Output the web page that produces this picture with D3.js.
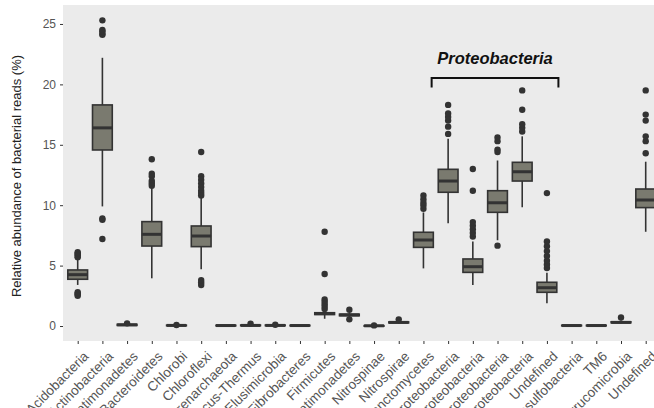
<!DOCTYPE html>
<html>
<head>
<meta charset="utf-8">
<script src="https://cdn.jsdelivr.net/npm/d3@7"></script>
<style>
  body { margin: 0; background: #fff; }
  text { font-family: "Liberation Sans", Arial, sans-serif; }
</style>
</head>
<body>
<svg id="chart" width="654" height="408"></svg>
<script>
const categories = ["Acidobacteria", "Actinobacteria", "Armatimonadetes", "Bacteroidetes", "Chlorobi",
  "Chloroflexi", "Crenarchaeota", "Deinococcus-Thermus", "Elusimicrobia", "Fibrobacteres", "Firmicutes",
  "Gemmatimonadetes", "Nitrospinae", "Nitrospirae", "Planctomycetes", "Alphaproteobacteria",
  "Betaproteobacteria", "Deltaproteobacteria", "Gammaproteobacteria", "Undefined",
  "Thermodesulfobacteria", "TM6", "Verrucomicrobia", "Undefined "];

const whiskerLo = [3.4, 9.9, 0.02, 3.95, 0.01, 4.7, 0.0, 0.01, 0.01, 0.0, 0.6, 0.75, 0.0, 0.2, 4.77, 8.5, 3.39, 7.1, 9.83, 1.88, 0.0, 0.0, 0.2, 7.8];
const q1 =        [3.87, 14.57, 0.05, 6.62, 0.03, 6.57, 0.02, 0.03, 0.03, 0.02, 0.95, 0.85, 0.01, 0.26, 6.51, 11.07, 4.44, 9.41, 12.0, 2.79, 0.02, 0.02, 0.27, 9.8];
const median =    [4.25, 16.4, 0.1, 7.59, 0.05, 7.45, 0.04, 0.05, 0.05, 0.04, 1.03, 0.92, 0.02, 0.3, 7.12, 12.0, 4.91, 10.2, 12.77, 3.17, 0.04, 0.04, 0.3, 10.43];
const q3 =        [4.64, 18.3, 0.14, 8.64, 0.07, 8.28, 0.06, 0.08, 0.08, 0.06, 1.1, 0.98, 0.03, 0.34, 7.76, 12.97, 5.55, 11.2, 13.55, 3.62, 0.06, 0.06, 0.35, 11.34];
const whiskerHi = [5.5, 22.2, 0.18, 11.4, 0.1, 10.6, 0.08, 0.12, 0.12, 0.08, 1.3, 1.1, 0.04, 0.42, 9.4, 15.5, 7.0, 13.7, 15.7, 4.4, 0.08, 0.08, 0.45, 13.6];
const outliers = [
  [5.7, 5.8, 5.9, 6.0, 6.1, 2.5, 2.6, 2.7, 2.8],
  [24.1, 24.2, 24.4, 24.5, 25.3, 8.8, 8.9, 7.2],
  [0.22],
  [13.8, 12.6, 12.4, 12.0, 11.8, 11.6],
  [0.08],
  [14.4, 12.4, 12.1, 11.8, 11.5, 11.2, 11.0, 10.8, 3.4, 3.6, 3.8],
  [],
  [0.2],
  [0.1],
  [],
  [7.8, 4.3, 2.2, 2.0, 1.8, 1.6, 1.4],
  [1.35, 0.55],
  [0.05],
  [0.55],
  [9.7, 10.0, 10.2, 10.5, 10.8],
  [15.9, 16.5, 17.0, 17.3, 17.6, 18.3],
  [7.4, 7.7, 8.0, 8.3, 8.6, 11.2, 13.0],
  [14.4, 14.6, 15.3, 15.6, 6.65],
  [16.1, 16.4, 16.7, 17.9, 19.5],
  [4.8, 5.1, 5.4, 5.8, 6.2, 6.6, 7.0, 11.0],
  [],
  [],
  [0.7],
  [14.3, 15.3, 15.7, 17.0, 17.5, 19.5]
];
const yTicks = [0, 5, 10, 15, 20, 25];
const groupLabel = "Proteobacteria";
const groupFrom = "Alphaproteobacteria", groupTo = "Undefined";

const rows = categories.map((c, i) => ({
  name: c, lo: whiskerLo[i], q1: q1[i], med: median[i], q3: q3[i], hi: whiskerHi[i], out: outliers[i]
}));

const svg = d3.select("#chart");
const panel = { left: 63, top: 5, right: 661, bottom: 341 };

const x = d3.scalePoint()
  .domain(categories)
  .range([77.7, 645.7]);
const boxW = x.step() * 0.8;

const y = d3.scaleLinear()
  .domain([-1.24, 26.57])
  .range([panel.bottom, panel.top]);

// grey panel, no grid
svg.append("rect")
  .attr("x", panel.left).attr("y", panel.top)
  .attr("width", panel.right - panel.left).attr("height", panel.bottom - panel.top)
  .attr("fill", "#ebebeb");

// axes
const yAxis = svg.append("g")
  .attr("transform", `translate(${panel.left},0)`)
  .call(d3.axisLeft(y).tickValues(yTicks).tickSize(3).tickPadding(4));
yAxis.select(".domain").remove();
yAxis.selectAll(".tick line").attr("stroke", "#333");
yAxis.selectAll("text").attr("fill", "#555").style("font-size", "12px");

const xAxis = svg.append("g")
  .attr("transform", `translate(0,${panel.bottom})`)
  .call(d3.axisBottom(x).tickSize(3).tickPadding(3));
xAxis.select(".domain").remove();
xAxis.selectAll(".tick line").attr("stroke", "#333");
// rotated labels: top-right corner sits just below the tick
xAxis.selectAll("text")
  .attr("fill", "#555")
  .style("font-size", "13.5px")
  .attr("text-anchor", "end")
  .attr("x", 0).attr("y", 0)
  .attr("dy", "0.75em")
  .attr("transform", "translate(4,9) rotate(-45)")
  .text(d => d.trim());

svg.append("text")
  .attr("transform", `translate(21,${(panel.top + panel.bottom) / 2 + 3}) rotate(-90)`)
  .attr("text-anchor", "middle")
  .attr("fill", "#222")
  .style("font-size", "13px")
  .text("Relative abundance of bacterial reads (%)");

// boxplots
const g = svg.selectAll(".box")
  .data(rows)
  .enter()
  .append("g")
  .attr("transform", d => `translate(${x(d.name)},0)`);

g.append("line")
  .attr("y1", d => y(d.lo)).attr("y2", d => y(d.hi))
  .attr("stroke", "#333").attr("stroke-width", 1.6);

g.append("rect")
  .attr("x", -boxW / 2).attr("width", boxW)
  .attr("y", d => y(d.q3))
  .attr("height", d => Math.max(y(d.q1) - y(d.q3), 0.5))
  .attr("fill", "#7a7a6f")
  .attr("stroke", "#333").attr("stroke-width", 1.6);

g.append("line")
  .attr("x1", -boxW / 2).attr("x2", boxW / 2)
  .attr("y1", d => y(d.med)).attr("y2", d => y(d.med))
  .attr("stroke", "#333").attr("stroke-width", 3);

g.selectAll("circle")
  .data(d => d.out)
  .enter()
  .append("circle")
  .attr("r", 3.2)
  .attr("cy", d => y(d))
  .attr("fill", "#333");

// Proteobacteria bracket
const bx1 = x(groupFrom) - 16.5, bx2 = x(groupTo) + 11.5, by = 78;
svg.append("path")
  .attr("d", `M${bx1},${by + 9.5}V${by}H${bx2}V${by + 9.5}`)
  .attr("fill", "none").attr("stroke", "#111").attr("stroke-width", 2);
svg.append("text")
  .attr("x", (bx1 + bx2) / 2).attr("y", 64)
  .attr("text-anchor", "middle")
  .attr("fill", "#111")
  .style("font-size", "16.5px").style("font-weight", "bold").style("font-style", "italic")
  .text(groupLabel);
</script>
</body>
</html>
